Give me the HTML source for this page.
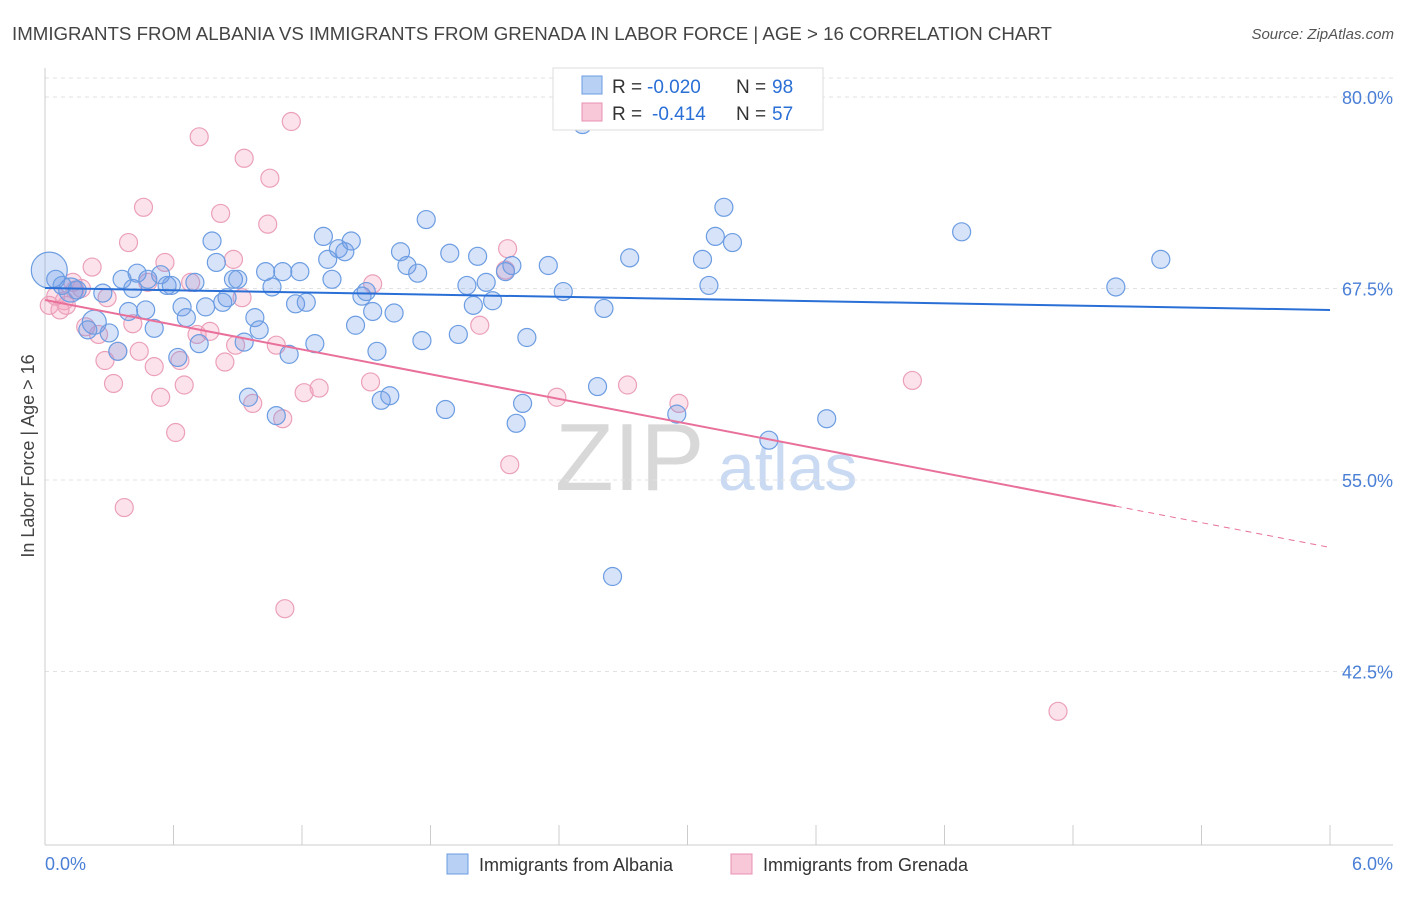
<!DOCTYPE html>
<html><head><meta charset="utf-8">
<style>
body{margin:0;background:#fff;font-family:"Liberation Sans",sans-serif;}
svg text{font-family:"Liberation Sans",sans-serif;}
</style></head>
<body>
<svg id="chart" width="1406" height="892" viewBox="0 0 1406 892" xmlns="http://www.w3.org/2000/svg">
<text x="12" y="40" font-size="18.7" fill="#444">IMMIGRANTS FROM ALBANIA VS IMMIGRANTS FROM GRENADA IN LABOR FORCE | AGE &gt; 16 CORRELATION CHART</text>
<text x="1394" y="39" font-size="15" fill="#555" font-style="italic" text-anchor="end">Source: ZipAtlas.com</text>
<g>
<text x="555" y="490" font-size="96" fill="#d8d8d8" font-family="Liberation Serif,serif">ZIP</text>
<text x="718" y="490" font-size="66" fill="#c9daf2">atlas</text>
</g>
<g id="grid"></g>
<g id="axes"></g>
<g id="marks"></g>
<g id="trends"></g>
<text transform="translate(34,456) rotate(-90)" font-size="18" fill="#444" text-anchor="middle">In Labor Force | Age &gt; 16</text>
<g>
<rect x="553" y="68" width="270" height="62" fill="#fff" stroke="#ddd"/>
<rect x="582" y="76" width="20" height="18" fill="#b8d0f4" stroke="#6a9be0"/>
<text x="612" y="93" font-size="19" fill="#333">R =</text>
<text x="647" y="93" font-size="19" fill="#2a6fd6">-0.020</text>
<text x="736" y="93" font-size="19" fill="#333">N =</text>
<text x="772" y="93" font-size="19" fill="#2a6fd6">98</text>
<rect x="582" y="103" width="20" height="18" fill="#f8c8d8" stroke="#e890b0"/>
<text x="612" y="120" font-size="19" fill="#333">R =</text>
<text x="652" y="120" font-size="19" fill="#2a6fd6">-0.414</text>
<text x="736" y="120" font-size="19" fill="#333">N =</text>
<text x="772" y="120" font-size="19" fill="#2a6fd6">57</text>
</g>
<g>
<rect x="447" y="854" width="21" height="20" fill="#b8d0f4" stroke="#6a9be0"/>
<text x="479" y="871" font-size="18" fill="#333">Immigrants from Albania</text>
<rect x="731" y="854" width="21" height="20" fill="#f8c8d8" stroke="#e890b0"/>
<text x="763" y="871" font-size="18" fill="#333">Immigrants from Grenada</text>
</g>
</svg>
<script>
const blueX=[.02,.05,.08,.12,.15,.23,.27,.20,.30,.34,.36,.39,.41,.43,.47,.48,.51,.54,.57,.59,.62,.64,.66,.70,.72,.75,.78,.80,.83,.85,.88,.90,.93,.95,.98,1.00,1.03,1.06,1.08,1.11,1.14,1.17,1.19,1.22,1.26,1.30,1.32,1.34,1.37,1.40,1.43,1.45,1.48,1.50,1.53,1.55,1.57,1.61,1.63,1.66,1.69,1.74,1.76,1.78,1.87,1.89,1.93,1.97,2.00,2.02,2.06,2.09,2.15,2.18,2.20,2.23,2.25,2.35,2.42,2.51,2.58,2.61,2.65,2.73,2.95,3.07,3.10,3.13,3.17,3.21,3.38,3.65,4.28,5.00,5.21];
const blueY=[68.7,68.1,67.7,67.4,67.4,65.3,67.2,64.8,64.6,63.4,68.1,66.0,67.5,68.5,66.1,68.1,64.9,68.4,67.7,67.7,63.0,66.3,65.6,67.9,63.9,66.3,70.6,69.2,66.6,66.9,68.1,68.1,64.0,60.4,65.6,64.8,68.6,67.6,59.2,68.6,63.2,66.5,68.6,66.6,63.9,70.9,69.4,68.1,70.1,69.9,70.6,65.1,67.0,67.3,66.0,63.4,60.2,60.5,65.9,69.9,69.0,68.5,64.1,72.0,59.6,69.8,64.5,67.7,66.4,69.6,67.9,66.7,68.6,69.0,58.7,60.0,64.3,69.0,67.3,78.2,61.1,66.2,48.7,69.5,59.3,69.4,67.7,70.9,72.8,70.5,57.6,59.0,71.2,67.6,69.4];
const pinkX=[.02,.05,.07,.09,.13,.14,.17,.19,.22,.25,.28,.29,.32,.34,.37,.39,.41,.44,.46,.48,.51,.54,.56,.61,.63,.65,.68,.71,.72,.77,.82,.84,.88,.89,.92,.93,.97,1.04,1.05,1.08,1.11,1.12,1.15,1.21,1.28,1.52,1.53,2.03,2.15,2.16,2.17,2.39,2.72,2.96,4.05,4.73,.10];
const pinkY=[66.4,67.0,66.1,66.7,67.9,67.4,67.5,65.0,68.9,64.5,62.8,66.9,61.3,63.4,53.2,70.5,65.2,63.4,72.8,67.9,62.4,60.4,69.2,58.1,62.8,61.2,67.9,64.5,77.4,64.7,72.4,62.7,69.4,63.8,66.9,76.0,60.0,71.7,74.7,63.8,59.0,46.6,78.4,60.7,61.0,61.4,67.8,65.1,68.7,70.1,56.0,60.4,61.2,60.0,61.5,39.9,66.4];
const blueTrend=[67.53,66.1];
const pinkTrend=[66.75,50.6];
const yTicks=[80,67.5,55,42.5];
const xTickLabels=["0.0%","6.0%"];

const NS="http://www.w3.org/2000/svg";
const X0=45,X1=1330,Y80=97,PXPER=15.32;
const sx=v=>X0+(v/6)*(X1-X0);
const sy=v=>Y80+(80-v)*PXPER;
function mk(tag,attrs,parent){const e=document.createElementNS(NS,tag);for(const k in attrs)e.setAttribute(k,attrs[k]);parent.appendChild(e);return e;}
const grid=document.getElementById('grid'),axes=document.getElementById('axes'),marks=document.getElementById('marks'),trends=document.getElementById('trends');

const topGrid=mk('line',{x1:X0,x2:1393,y1:78,y2:78,stroke:'#e2e2e2','stroke-dasharray':'4,4'},grid);


yTicks.forEach(t=>{
 const g=mk('line',{x1:X0,x2:1393,y1:sy(t),y2:sy(t),stroke:'#e2e2e2','stroke-dasharray':'4,4'},grid);
 
 
 const l=mk('text',{x:1393,y:sy(t)+7,'font-size':18,fill:'#4a7fd6','text-anchor':'end'},axes);
 l.textContent=t.toFixed(1)+'%';
 
 
});
const ya=mk('line',{x1:X0,x2:X0,y1:68,y2:845,stroke:'#ccc'},axes);


const xa=mk('line',{x1:X0,x2:1393,y1:845,y2:845,stroke:'#ccc'},axes);


for(let i=0;i<=10;i++){
 const t=mk('line',{x1:sx(i*0.6),x2:sx(i*0.6),y1:825,y2:845,stroke:'#ccc'},axes);
 
 
}
[[0,'start',45],[6,'end',1393]].forEach((d,i)=>{
 const l=mk('text',{x:d[2],y:870,'font-size':18,fill:'#4a7fd6','text-anchor':d[1]},axes);
 l.textContent=xTickLabels[i];
 
 
});

function pts(xs,ys,fill,stroke,name){
 xs.forEach((x,i)=>{
  let r=9; if(name==='albania-point'&&i===0)r=18; if(name==='albania-point'&&(i===3||i===5))r=12;
  const c=mk('circle',{cx:sx(x),cy:sy(ys[i]),r:r,fill:fill,stroke:stroke,'stroke-width':1.2},marks);
  
  
 });
}
pts(pinkX,pinkY,'rgba(244,160,190,0.3)','#eba0ba','grenada-point');
pts(blueX,blueY,'rgba(110,155,230,0.28)','#6c9de2','albania-point');

const bl=mk('line',{x1:sx(0),y1:sy(blueTrend[0]),x2:sx(6),y2:sy(blueTrend[1]),stroke:'#2a6fd6','stroke-width':2},trends);


const pAt=x=>pinkTrend[0]+(pinkTrend[1]-pinkTrend[0])*x/6;
const pl=mk('line',{x1:sx(0),y1:sy(pAt(0)),x2:sx(5),y2:sy(pAt(5)),stroke:'#e8709a','stroke-width':2},trends);


const pd=mk('line',{x1:sx(5),y1:sy(pAt(5)),x2:sx(6),y2:sy(pAt(6)),stroke:'#e8709a','stroke-width':1,'stroke-dasharray':'6,5'},trends);


</script>
</body></html>
